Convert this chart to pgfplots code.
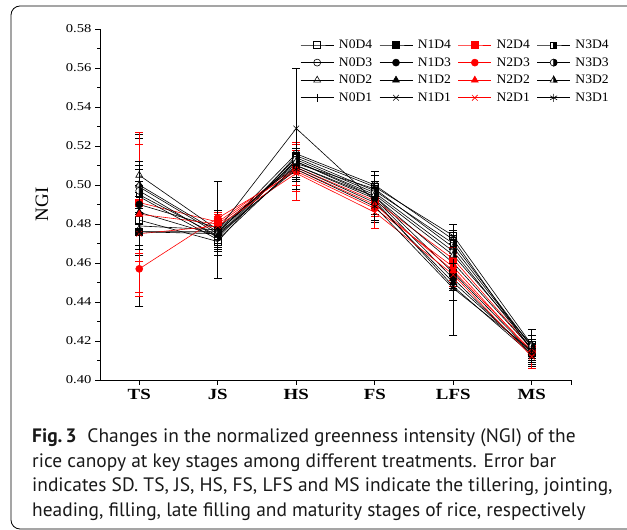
\documentclass[border=0pt]{standalone}
\usepackage{fontspec}
\setmainfont{Liberation Serif}
\newfontfamily\capfont{PT Sans}
\usepackage{pgfplots}
\pgfplotsset{compat=1.18}
\usetikzlibrary{plotmarks}
\definecolor{myred}{RGB}{255,0,0}
\newcommand{\wx}[1]{\scalebox{1.22}[1]{#1}}
\newcommand{\lx}[1]{\scalebox{1.05}[1]{#1}}
\pgfdeclareplotmark{hsq}{%
  \pgfpathrectangle{\pgfpoint{-\pgfplotmarksize}{-\pgfplotmarksize}}{\pgfpoint{2\pgfplotmarksize}{2\pgfplotmarksize}}%
  \pgfsetfillcolor{white}\pgfusepathqfillstroke
  \pgfpathrectangle{\pgfpoint{0pt}{-\pgfplotmarksize}}{\pgfpoint{\pgfplotmarksize}{2\pgfplotmarksize}}%
  \pgfsetfillcolor{black}\pgfusepathqfillstroke}
\pgfdeclareplotmark{hcirc}{%
  \pgfpathcircle{\pgfpointorigin}{\pgfplotmarksize}%
  \pgfsetfillcolor{white}\pgfusepathqfillstroke
  \pgfpathmoveto{\pgfpoint{0pt}{\pgfplotmarksize}}%
  \pgfpatharc{90}{-90}{\pgfplotmarksize}%
  \pgfpathclose
  \pgfsetfillcolor{black}\pgfusepathqfillstroke}
\pgfdeclareplotmark{htri}{%
  \pgfpathmoveto{\pgfpoint{0pt}{\pgfplotmarksize}}%
  \pgfpathlineto{\pgfpoint{-0.866\pgfplotmarksize}{-0.5\pgfplotmarksize}}%
  \pgfpathlineto{\pgfpoint{0.866\pgfplotmarksize}{-0.5\pgfplotmarksize}}%
  \pgfpathclose
  \pgfsetfillcolor{white}\pgfusepathqfillstroke
  \pgfpathmoveto{\pgfpoint{0pt}{\pgfplotmarksize}}%
  \pgfpathlineto{\pgfpoint{0pt}{-0.5\pgfplotmarksize}}%
  \pgfpathlineto{\pgfpoint{0.866\pgfplotmarksize}{-0.5\pgfplotmarksize}}%
  \pgfpathclose
  \pgfsetfillcolor{black}\pgfusepathqfillstroke}
\begin{document}
\begin{tikzpicture}[x=1bp,y=1bp]
\useasboundingbox (0,0) rectangle (627,530);
\draw[line width=0.8bp, rounded corners=9bp] (627,524) -- (11,524) -- (11,1) -- (627,1);
\begin{axis}[
  at={(100bp,150bp)}, anchor=south west,
  scale only axis, width=471bp, height=351bp,
  axis lines=left, axis line style={-, line width=0.7bp},
  xmin=-0.5, xmax=5.5, ymin=0.40, ymax=0.58,
  xtick={0,1,2,3,4,5},
  xticklabels={\wx{TS},\wx{JS},\wx{HS},\wx{FS},\wx{LFS},\wx{MS}},
  extra x ticks={5.5}, extra x tick labels={},
  x tick label style={font=\fontsize{15.5}{15.5}\selectfont\bfseries, yshift=-1bp},
  ytick={0.40,0.42,...,0.581},
  minor y tick num=1,
  y tick label style={font=\fontsize{12}{12}\selectfont},
  yticklabel={\wx{\pgfmathprintnumber[fixed,fixed zerofill,precision=2,assume math mode=true]{\tick}}},
  tick align=outside,
  major tick length=5bp, minor tick length=3bp,
  tick style={line width=0.7bp, black},
  ylabel={NGI},
  ylabel style={font=\fontsize{19}{19}\selectfont, at={(-0.123,0.5)}, anchor=center},
  clip=false,
  legend columns=4,
  legend style={at={(0.425,0.975)}, anchor=north west, draw=none, fill=none,
    font=\fontsize{13}{13}\selectfont, inner sep=0pt, row sep=3.5bp,
    /tikz/every odd column/.style={column sep=3bp},
    /tikz/every even column/.style={column sep=5bp}},
  legend cell align=left,
  legend image code/.code={\draw[mark repeat=2,mark phase=2] plot coordinates {(0bp,0bp) (16.5bp,0bp) (33bp,0bp)};},
  every axis plot/.append style={line width=0.6bp, mark size=3.5bp,
    error bars/y dir=both, error bars/y explicit,
    error bars/error mark options={rotate=90, mark size=4bp, line width=0.6bp},
    error bars/error bar style={line width=0.6bp}},
]
% D4
\addplot[black, mark=square, mark options={fill=white, solid}] coordinates {(0,0.482) +- (0,0.044) (1,0.471) +- (0,0.005) (2,0.515) +- (0,0.004) (3,0.499) +- (0,0.006) (4,0.474) +- (0,0.006) (5,0.418) +- (0,0.005)};
\addlegendentry{\lx{N0D4}}
\addplot[black, mark=square*, mark options={fill=black}] coordinates {(0,0.476) +- (0,0.012) (1,0.476) +- (0,0.006) (2,0.512) +- (0,0.005) (3,0.494) +- (0,0.004) (4,0.455) +- (0,0.006) (5,0.414) +- (0,0.006)};
\addlegendentry{\lx{N1D4}}
\addplot[myred, mark=square*, mark options={fill=myred}] coordinates {(0,0.491) +- (0,0.030) (1,0.481) +- (0,0.004) (2,0.509) +- (0,0.012) (3,0.492) +- (0,0.005) (4,0.462) +- (0,0.006) (5,0.416) +- (0,0.005)};
\addlegendentry{\lx{N2D4}}
\addplot[black, mark=hsq, mark options={mark size=3bp}] coordinates {(0,0.495) +- (0,0.015) (1,0.474) +- (0,0.006) (2,0.514) +- (0,0.004) (3,0.497) +- (0,0.005) (4,0.470) +- (0,0.007) (5,0.417) +- (0,0.004)};
\addlegendentry{\lx{N3D4}}
% D3
\addplot[black, mark=o, mark options={fill=white}] coordinates {(0,0.499) +- (0,0.013) (1,0.475) +- (0,0.007) (2,0.516) +- (0,0.003) (3,0.500) +- (0,0.005) (4,0.472) +- (0,0.005) (5,0.415) +- (0,0.005)};
\addlegendentry{\lx{N0D3}}
\addplot[black, mark=*, mark options={fill=black}] coordinates {(0,0.490) +- (0,0.010) (1,0.478) +- (0,0.005) (2,0.510) +- (0,0.006) (3,0.493) +- (0,0.006) (4,0.452) +- (0,0.005) (5,0.413) +- (0,0.006)};
\addlegendentry{\lx{N1D3}}
\addplot[myred, mark=*, mark options={fill=myred}] coordinates {(0,0.457) +- (0,0.012) (1,0.483) +- (0,0.003) (2,0.507) +- (0,0.015) (3,0.488) +- (0,0.007) (4,0.458) +- (0,0.007) (5,0.414) +- (0,0.004)};
\addlegendentry{\lx{N2D3}}
\addplot[black, mark=hcirc] coordinates {(0,0.497) +- (0,0.011) (1,0.473) +- (0,0.007) (2,0.513) +- (0,0.005) (3,0.496) +- (0,0.005) (4,0.466) +- (0,0.006) (5,0.416) +- (0,0.005)};
\addlegendentry{\lx{N3D3}}
% D2
\addplot[black, mark=triangle, mark options={fill=white, mark size=4bp}] coordinates {(0,0.505) +- (0,0.019) (1,0.477) +- (0,0.010) (2,0.511) +- (0,0.005) (3,0.498) +- (0,0.004) (4,0.468) +- (0,0.006) (5,0.417) +- (0,0.006)};
\addlegendentry{\lx{N0D2}}
\addplot[black, mark=triangle*, mark options={fill=black, mark size=4bp}] coordinates {(0,0.486) +- (0,0.010) (1,0.474) +- (0,0.008) (2,0.509) +- (0,0.006) (3,0.491) +- (0,0.006) (4,0.450) +- (0,0.004) (5,0.414) +- (0,0.005)};
\addlegendentry{\lx{N1D2}}
\addplot[myred, mark=triangle*, mark options={fill=myred, mark size=4bp}] coordinates {(0,0.485) +- (0,0.042) (1,0.480) +- (0,0.004) (2,0.508) +- (0,0.010) (3,0.490) +- (0,0.006) (4,0.456) +- (0,0.006) (5,0.415) +- (0,0.005)};
\addlegendentry{\lx{N2D2}}
\addplot[black, mark=htri, mark options={mark size=4bp}] coordinates {(0,0.500) +- (0,0.012) (1,0.476) +- (0,0.006) (2,0.512) +- (0,0.004) (3,0.495) +- (0,0.005) (4,0.464) +- (0,0.006) (5,0.418) +- (0,0.008)};
\addlegendentry{\lx{N3D2}}
% D1
\addplot[black, mark=+, mark options={mark size=4bp}] coordinates {(0,0.494) +- (0,0.008) (1,0.472) +- (0,0.008) (2,0.510) +- (0,0.007) (3,0.494) +- (0,0.013) (4,0.460) +- (0,0.007) (5,0.416) +- (0,0.005)};
\addlegendentry{\lx{N0D1}}
\addplot[black, mark=x, mark options={mark size=4bp}] coordinates {(0,0.479) +- (0,0.010) (1,0.477) +- (0,0.025) (2,0.529) +- (0,0.031) (3,0.492) +- (0,0.007) (4,0.448) +- (0,0.025) (5,0.413) +- (0,0.006)};
\addlegendentry{\lx{N1D1}}
\addplot[myred, mark=x, mark options={mark size=4bp}] coordinates {(0,0.475) +- (0,0.010) (1,0.479) +- (0,0.005) (2,0.506) +- (0,0.006) (3,0.486) +- (0,0.008) (4,0.454) +- (0,0.006) (5,0.412) +- (0,0.006)};
\addlegendentry{\lx{N2D1}}
\addplot[black, mark=asterisk, mark options={mark size=4bp}] coordinates {(0,0.476) +- (0,0.009) (1,0.475) +- (0,0.006) (2,0.508) +- (0,0.006) (3,0.489) +- (0,0.007) (4,0.447) +- (0,0.006) (5,0.415) +- (0,0.006)};
\addlegendentry{\lx{N3D1}}
\end{axis}
\begin{scope}[every node/.style={anchor=base west, inner sep=0pt, font=\capfont\fontsize{19.5}{19.5}\selectfont, text=black!90}]
\node at (32,87) {\textbf{Fig.\,3}\hspace{0.55em}Changes in the normalized greenness intensity (NGI) of the};
\node at (32,62) {rice canopy at key stages among different treatments. Error bar};
\node at (32,38) {indicates SD. TS, JS, HS, FS, LFS and MS indicate the tillering, jointing,};
\node at (32,13) {heading, filling, late filling and maturity stages of rice, respectively};
\end{scope}
\end{tikzpicture}
\end{document}
